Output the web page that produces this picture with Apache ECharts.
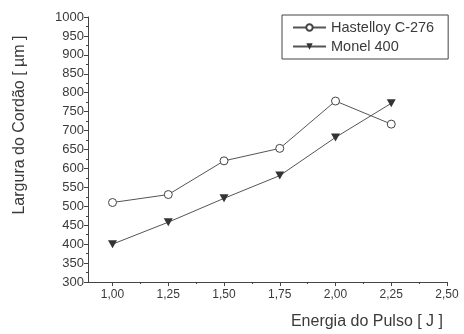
<!DOCTYPE html>
<html>
<head>
<meta charset="utf-8">
<script src="https://cdn.jsdelivr.net/npm/echarts@6/dist/echarts.min.js"></script>
<style>
html,body{margin:0;padding:0;background:#fff;}
#c{width:464px;height:334px;}
</style>
</head>
<body>
<div id="c"></div>
<script>
const energy = [1.00, 1.25, 1.50, 1.75, 2.00, 2.25];
const hastelloy = [510, 531, 620, 653, 778, 717];
const monel = [400, 458, 521, 581, 682, 772];
const xMajorTicks = [1.00, 1.25, 1.50, 1.75, 2.00, 2.25, 2.50];
const xMinorTicks = [1.125, 1.375, 1.625, 1.875, 2.125, 2.375];
const seriesNames = ['Hastelloy C-276', 'Monel 400'];
const xTitle = 'Energia do Pulso [ J ]';
const yTitle = 'Largura do Cordão [ µm ]';

const FONT = "'Liberation Sans', Arial, sans-serif";
const INK = '#3a3a3a';
const chart = echarts.init(document.getElementById('c'), null, {renderer: 'canvas'});
const pairs = arr => energy.map((x, i) => [x, arr[i]]);
const fmt = v => v.toFixed(2).replace('.', ',');

chart.setOption({
  animation: false,
  backgroundColor: '#fff',
  textStyle: {fontFamily: FONT},
  grid: {left: 88, right: 17, top: 17, bottom: 52},
  legend: {
    orient: 'vertical',
    left: 282, top: 15,
    padding: [5, 14, 5, 10],
    itemGap: 4,
    itemWidth: 33, itemHeight: 8,
    borderColor: '#444', borderWidth: 1,
    textStyle: {fontFamily: FONT, fontSize: 14.5, color: INK},
    data: seriesNames
  },
  xAxis: [{
    type: 'value', min: 0.89, max: 2.5,
    splitLine: {show: false},
    axisLine: {show: true, lineStyle: {color: '#444', width: 1}},
    axisTick: {show: true, customValues: xMajorTicks, length: 4, lineStyle: {color: '#444'}},
    axisLabel: {show: true, customValues: xMajorTicks, formatter: fmt, fontSize: 12, color: INK, margin: 7, fontFamily: FONT}
  }, {
    type: 'value', min: 0.89, max: 2.5, position: 'bottom',
    splitLine: {show: false},
    axisLine: {show: false},
    axisTick: {show: true, customValues: xMinorTicks, length: 2, lineStyle: {color: '#444'}},
    axisLabel: {show: false}
  }],
  yAxis: {
    type: 'value', min: 300, max: 1000, interval: 50,
    splitLine: {show: false},
    axisLine: {show: true, lineStyle: {color: '#444', width: 1}},
    axisTick: {show: true, length: 4, lineStyle: {color: '#444'}},
    minorTick: {show: true, splitNumber: 2, length: 2, lineStyle: {color: '#444'}},
    axisLabel: {fontSize: 13, color: INK, margin: 4, fontFamily: FONT, formatter: v => String(v)}
  },
  graphic: [{
    type: 'text', x: 443, y: 322,
    style: {text: xTitle, font: "16px 'Liberation Sans', Arial, sans-serif", fill: INK, align: 'right', verticalAlign: 'middle'}
  }, {
    type: 'text', x: 19.5, y: 125, rotation: Math.PI / 2,
    style: {text: yTitle, font: "16px 'Liberation Sans', Arial, sans-serif", fill: INK, align: 'center', verticalAlign: 'middle'}
  }],
  series: [{
    name: seriesNames[0], type: 'line', xAxisIndex: 0,
    data: pairs(hastelloy),
    symbol: 'circle', symbolSize: 8,
    lineStyle: {color: '#555', width: 1},
    itemStyle: {color: '#fff', borderColor: '#444', borderWidth: 1}
  }, {
    name: seriesNames[1], type: 'line', xAxisIndex: 0,
    data: pairs(monel),
    symbol: 'path://M0,0L10,0L5,9Z', symbolSize: [9, 8],
    lineStyle: {color: '#555', width: 1},
    itemStyle: {color: '#333', borderColor: '#333', borderWidth: 0}
  }]
});
</script>
</body>
</html>
